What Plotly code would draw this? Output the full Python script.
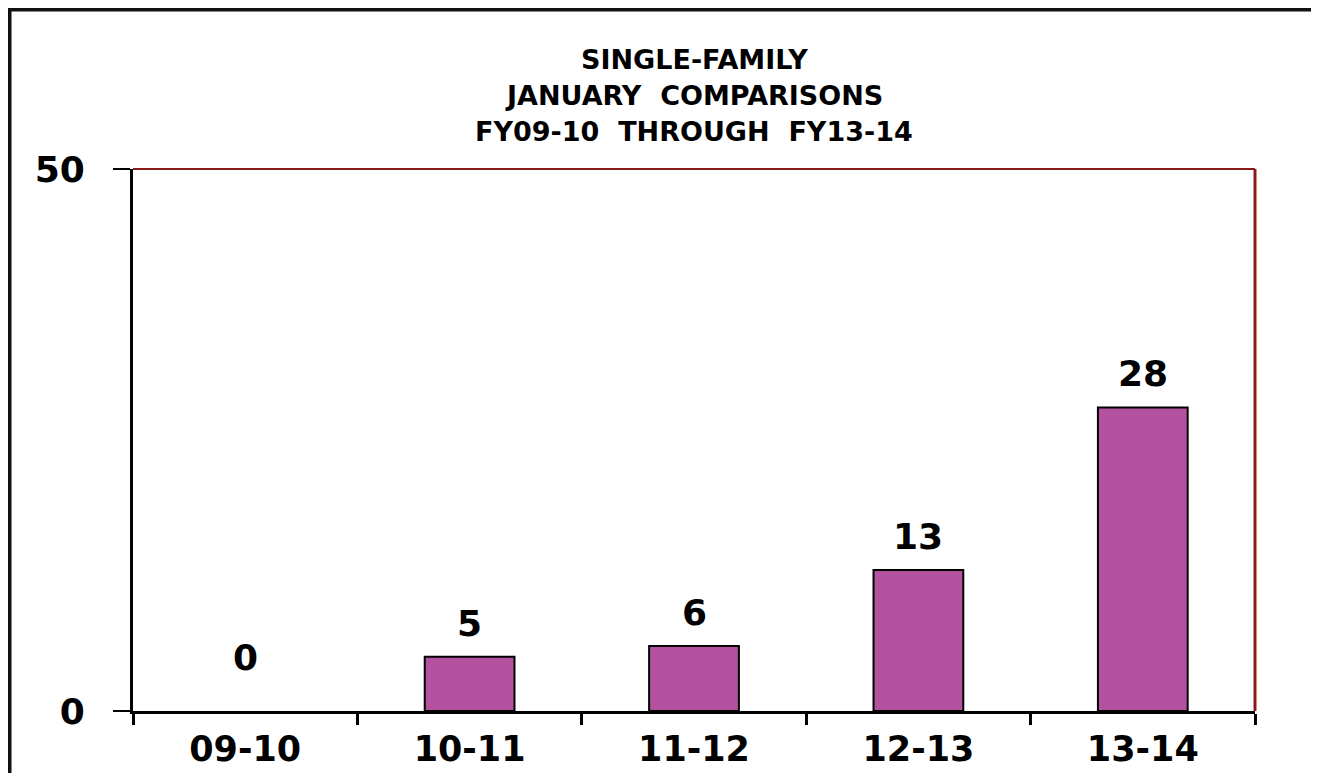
import plotly.graph_objects as go

categories = ["09-10", "10-11", "11-12", "12-13", "13-14"]
values = [0, 5, 6, 13, 28]
y_ticks = [0, 50]
title_lines = ["SINGLE-FAMILY", "JANUARY  COMPARISONS", "FY09-10  THROUGH  FY13-14"]

# page body has an 8px margin: figure origin sits at (8, 8) in the window
OX, OY = 8, 8
W, H = 1319 - OX, 773 - OY
# plot area in window pixels
L, R, T, B = 133, 1255, 169, 711
pw, ph = R - L, B - T

def px_x(x):
    return (x - L) / pw

def px_y(y):
    return (B - y) / ph

FONT = "DejaVu Sans"

fig = go.Figure()
fig.add_trace(go.Bar(
    x=categories, y=values, width=0.4,
    marker=dict(color="#B5529F",
                line=dict(color="black", width=[2 if v > 0 else 0 for v in values])),
    hoverinfo="skip",
))

annotations = []
for c, v in zip(categories, values):
    annotations.append(dict(
        x=c, y=v, xref="x", yref="y", text=str(v), showarrow=False,
        yanchor="bottom", yshift=(11 if v > 0 else 31),
        font=dict(family=FONT, size=36, color="black", weight="bold"),
    ))

title_y = [60, 96, 132]
for t, yp in zip(title_lines, title_y):
    annotations.append(dict(
        x=0.5, y=px_y(yp), xref="paper", yref="paper", text=t, showarrow=False,
        xanchor="center", yanchor="middle",
        font=dict(family=FONT, size=27, color="black", weight="bold"),
    ))

shapes = [
    # outer frame
    dict(type="rect", xref="paper", yref="paper",
         x0=px_x(OX + 1.5), x1=px_x(1316), y0=px_y(820), y1=px_y(OY + 1.5),
         line=dict(color="#111111", width=4), layer="below"),
    # top and right plot border (dark red)
    dict(type="line", xref="paper", yref="paper", x0=0, x1=1, y0=1, y1=1,
         line=dict(color="#8B1A1A", width=2)),
    dict(type="line", xref="paper", yref="paper", x0=1, x1=1, y0=0, y1=1,
         line=dict(color="#8B1A1A", width=3)),
]

fig.update_layout(
    width=W, height=H,
    margin=dict(l=L - OX, r=(W + OX) - R, t=T - OY, b=(H + OY) - B, autoexpand=False),
    paper_bgcolor="white", plot_bgcolor="white",
    showlegend=False,
    annotations=annotations,
    shapes=shapes,
    xaxis=dict(
        type="category", showgrid=False, zeroline=False,
        showline=True, linecolor="black", linewidth=3,
        ticks="outside", tickson="boundaries", ticklen=11, tickwidth=3, tickcolor="black",
        ticklabelstandoff=5,
        tickfont=dict(family=FONT, size=35, color="black", weight="bold"),
        range=[-0.5, 4.5],
    ),
    yaxis=dict(
        range=[0, 50], tickvals=y_ticks, showgrid=False, zeroline=False,
        showline=True, linecolor="black", linewidth=3,
        ticks="outside", ticklen=17, tickwidth=2, tickcolor="black",
        ticklabelstandoff=21,
        tickfont=dict(family=FONT, size=36, color="black", weight="bold"),
    ),
)

fig.write_html("out.html")
